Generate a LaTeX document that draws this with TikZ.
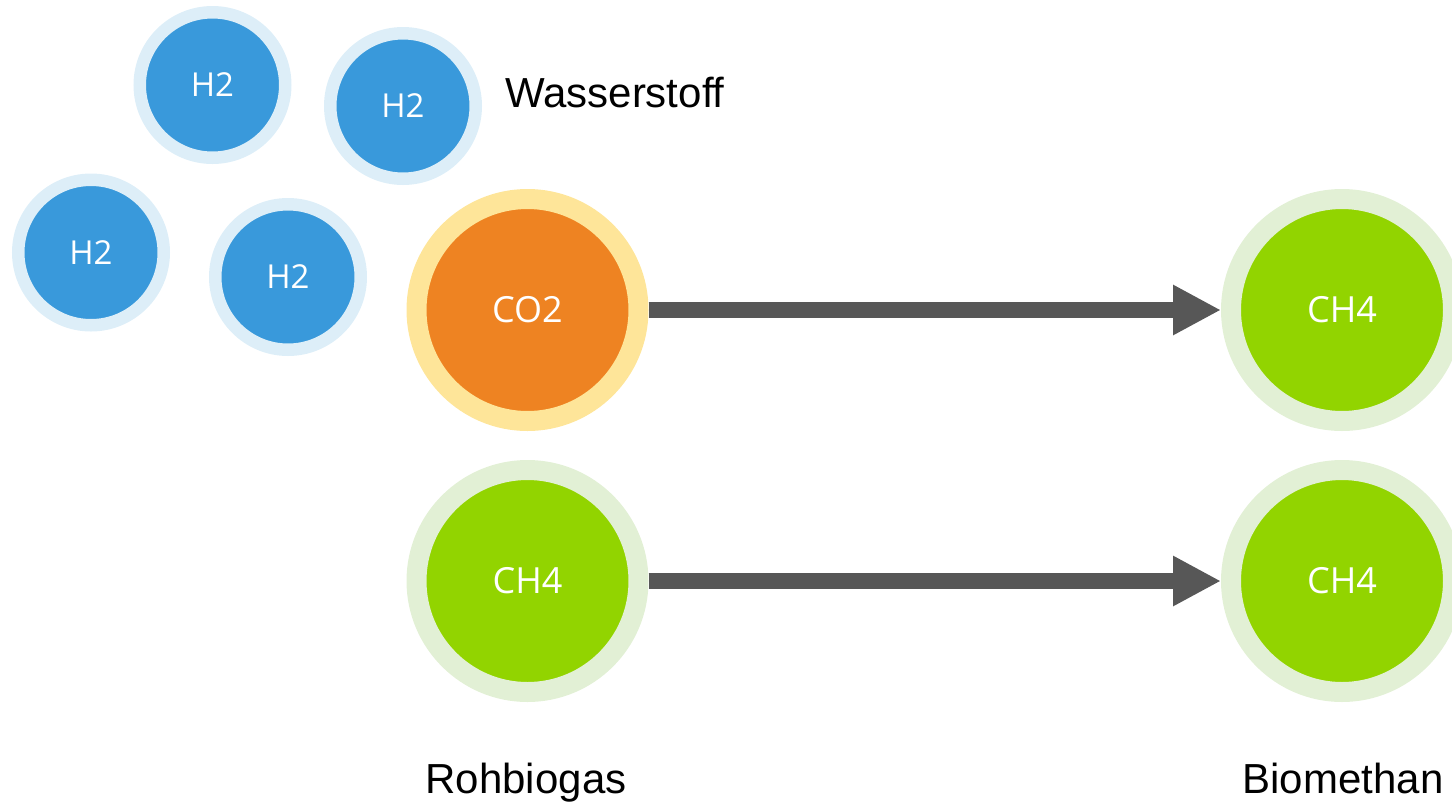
\documentclass[tikz,border=0pt]{standalone}
\usepackage{fontspec}
\setmainfont{Liberation Sans}
\newfontfamily\molfont{Open Sans}
\usetikzlibrary{arrows.meta}
\definecolor{hblue}{HTML}{3999DB}
\definecolor{hring}{HTML}{DDEEF8}
\definecolor{corange}{HTML}{EE8322}
\definecolor{cring}{HTML}{FEE599}
\definecolor{mgreen}{HTML}{92D400}
\definecolor{mring}{HTML}{E2F0D5}
\definecolor{arrowgray}{HTML}{575757}
\tikzset{
  hmol/.style={circle, inner sep=0pt, fill=hblue, draw=hring, line width=12.5pt,
    minimum size=145.5pt, text=white, font=\molfont\fontsize{33}{33}\selectfont},
  bigmol/.style={circle, inner sep=0pt, line width=20pt, minimum size=222pt,
    text=white, font=\molfont\fontsize{36}{36}\selectfont},
  comol/.style={bigmol, fill=corange, draw=cring},
  chmol/.style={bigmol, fill=mgreen, draw=mring},
  flow/.style={line width=16pt, draw=arrowgray, -{Triangle[length=48pt,width=47pt]}},
  caption/.style={font=\fontsize{42}{42}\selectfont, text=black, inner sep=0pt}
}
\begin{document}
\begin{tikzpicture}[x=1pt,y=-1pt]
\useasboundingbox (0,0) rectangle (1452,804);
\clip (0,0) rectangle (1452,804);
\node[hmol] (h1) at (212.5,85) {H2};
\node[hmol] (h2) at (403,106) {H2};
\node[hmol] (h3) at (91,252.5) {H2};
\node[hmol] (h4) at (288,277) {H2};
\node[comol] (co2) at (527.5,310) {CO2};
\node[chmol] (ch4l) at (527.5,581) {CH4};
\node[chmol] (ch4a) at (1342,310) {CH4};
\node[chmol] (ch4b) at (1342,581) {CH4};
\draw[flow] (co2) -- (ch4a);
\draw[flow] (ch4l) -- (ch4b);
\node[caption, anchor=base west] (wasser) at (505,107) {Wasserstoff};
\node[caption, anchor=base] (roh) at (526,793) {Rohbiogas};
\node[caption, anchor=base] (bio) at (1343,793) {Biomethan};
\end{tikzpicture}
\end{document}
